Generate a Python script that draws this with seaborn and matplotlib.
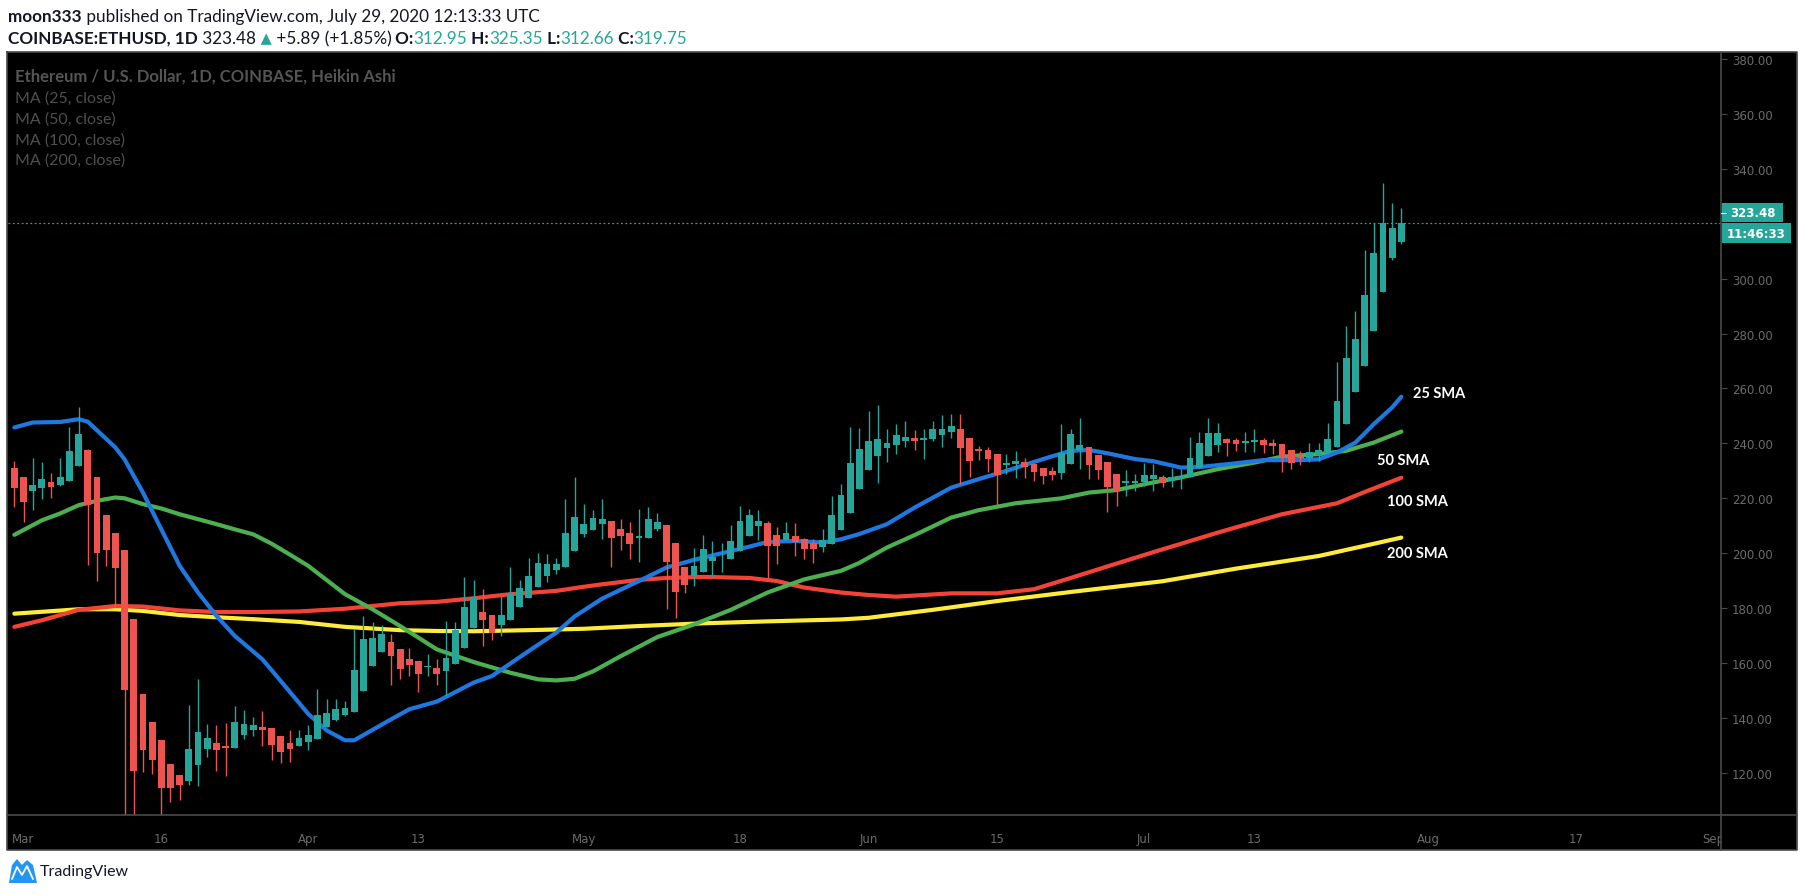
import pandas as pd
import matplotlib
matplotlib.use("Agg")
import matplotlib.pyplot as plt
from matplotlib.patches import Rectangle, Polygon
from matplotlib.ticker import FormatStrFormatter
import seaborn as sns

# COINBASE:ETHUSD daily Heikin Ashi candles, 29 Feb 2020 - 29 Jul 2020
dates = pd.date_range("2020-02-29", "2020-07-29", freq="D")

ha_open = [
    231.2, 227.6, 222.7, 223.8, 225.8, 224.9, 226.4, 231.8, 237.5, 227.6,
    214.1, 207.5, 201.3, 176.0, 148.6, 138.4, 131.9, 123.1, 119.1, 117.1,
    122.9, 128.7, 130.8, 129.7, 129.1, 133.8, 135.6, 136.6, 136.2, 133.3,
    130.8, 129.8,
    131.3, 132.5, 136.9, 139.3, 141.1, 142.2, 149.9, 159.0, 164.1, 167.6,
    165.0, 161.6, 160.7, 158.5, 158.4, 157.1, 159.7, 165.5, 172.8, 178.5,
    177.4, 173.9, 175.7, 180.5, 183.7, 187.7, 191.7, 193.9, 195.0, 200.8,
    206.9, 208.5, 210.6, 211.7, 208.7, 207.5, 205.6, 205.5, 208.7, 210.2,
    203.6, 194.9, 191.8, 193.2, 197.2, 198.1, 197.8, 200.9, 206.2, 209.9,
    210.9, 206.8, 204.7, 206.1, 205.1, 203.6, 202.3, 203.3, 208.5, 214.6, 223.3,
    230.4, 235.5, 238.4, 239.5, 240.8, 241.8, 241.3, 241.5, 243.1, 244.2,
    245.2, 241.9, 237.9, 237.5, 236.1, 232.2, 232.5, 233.2, 232.4, 231.0,
    229.9, 229.1, 232.4, 237.6, 238.6, 235.7, 233.2, 228.8, 225.6, 225.6,
    225.9, 227.0, 227.6, 226.4, 227.0, 227.6, 231.2, 235.5, 239.3, 241.6,
    241.2, 240.3, 240.6, 241.2, 240.3, 239.7, 237.5, 235.5, 234.7, 235.9,
    236.4, 238.7, 247.0, 258.8, 268.2, 281.0, 295.2, 307.6, 313.2,
]
ha_high = [
    233.6, 227.9, 234.6, 233.2, 229.1, 234.6, 245.9, 253.2, 237.9, 227.6,
    214.1, 207.5, 201.3, 176.0, 148.6, 138.4, 131.9, 123.1, 119.1, 144.6,
    154.1, 137.7, 137.4, 138.1, 144.3, 142.8, 140.2, 142.4, 136.2, 133.3,
    135.5, 135.5,
    137.4, 150.5, 146.8, 146.8, 146.1, 172.3, 177.2, 175.0, 173.8, 170.5,
    165.0, 165.4, 160.7, 163.2, 161.6, 175.2, 175.1, 191.3, 190.2, 186.9,
    177.4, 184.8, 194.9, 190.2, 198.2, 200.0, 199.6, 198.2, 219.7, 227.7,
    217.9, 215.7, 219.7, 211.7, 212.4, 211.2, 216.0, 217.0, 214.8, 210.2,
    203.6, 194.9, 201.8, 206.6, 204.5, 203.6, 210.2, 217.1, 216.0, 215.7,
    211.7, 209.5, 211.3, 210.9, 205.7, 205.1, 208.7, 220.9, 225.1, 246.0, 245.5,
    251.7, 253.9, 245.4, 246.9, 248.1, 244.8, 245.4, 248.1, 250.3, 250.6,
    250.6, 241.9, 239.0, 238.6, 236.1, 236.1, 237.2, 234.6, 232.4, 231.0,
    231.3, 247.0, 245.2, 249.2, 238.6, 235.7, 233.2, 228.8, 230.4, 228.8,
    232.9, 232.4, 228.4, 231.2, 230.6, 242.4, 244.0, 249.2, 247.6, 242.1,
    241.8, 244.0, 245.4, 242.1, 241.5, 239.7, 237.5, 237.3, 240.1, 240.1,
    247.4, 269.7, 282.8, 288.3, 310.5, 320.2, 334.8, 327.5, 325.6,
]
ha_low = [
    217.0, 211.5, 215.8, 219.8, 220.2, 224.5, 226.4, 231.8, 195.8, 189.9,
    195.2, 180.8, 95.0, 90.0, 120.3, 119.5, 102.0, 109.4, 110.1, 115.6,
    115.2, 125.8, 120.7, 118.9, 129.1, 132.4, 133.5, 129.8, 124.7, 123.6,
    124.0, 129.8,
    128.4, 132.5, 136.9, 138.9, 140.7, 142.2, 149.9, 159.0, 164.1, 152.0,
    154.2, 155.3, 149.5, 155.3, 152.0, 148.0, 159.7, 165.5, 172.8, 166.2,
    168.4, 169.9, 175.7, 180.5, 183.7, 187.7, 189.6, 192.5, 195.0, 200.8,
    206.0, 208.5, 205.1, 195.0, 201.1, 197.8, 196.8, 205.5, 208.1, 179.6,
    176.4, 185.4, 188.1, 193.2, 191.5, 193.2, 197.8, 200.9, 206.2, 204.9,
    190.9, 196.0, 204.7, 199.0, 197.8, 196.4, 200.5, 203.3, 208.5, 214.6, 223.3,
    230.4, 225.5, 233.3, 236.2, 238.6, 237.6, 234.2, 240.8, 238.6, 241.9,
    225.1, 227.7, 234.0, 229.5, 217.5, 228.9, 227.3, 227.3, 226.4, 225.1,
    226.6, 227.0, 232.4, 230.6, 227.0, 227.0, 215.1, 217.2, 220.9, 222.7,
    224.4, 222.7, 224.3, 224.3, 223.3, 227.6, 231.2, 235.5, 236.9, 235.5,
    237.3, 236.7, 236.7, 236.4, 236.1, 229.6, 230.6, 232.2, 233.3, 233.6,
    236.4, 238.7, 247.0, 258.8, 268.2, 281.0, 295.2, 306.6, 312.6,
]
ha_close = [
    223.6, 218.5, 225.0, 227.2, 224.2, 227.9, 237.2, 243.4, 217.6, 200.1,
    201.2, 194.7, 150.2, 120.7, 128.4, 124.7, 114.5, 114.5, 115.6, 128.9,
    134.8, 132.6, 128.4, 129.0, 138.4, 137.7, 137.3, 135.6, 130.2, 127.6,
    128.7, 132.9,
    133.7, 141.0, 142.0, 143.2, 143.5, 157.4, 168.7, 169.0, 170.5, 162.6,
    158.0, 159.3, 156.0, 158.6, 156.0, 162.0, 171.9, 180.3, 184.1, 175.7,
    171.1, 177.4, 185.7, 187.3, 191.6, 196.4, 196.0, 196.0, 207.3, 213.1,
    210.6, 213.0, 212.4, 205.5, 206.3, 203.3, 206.1, 212.4, 211.2, 196.8,
    185.9, 188.5, 195.3, 201.5, 198.8, 198.3, 204.4, 211.7, 213.9, 211.7,
    202.7, 202.7, 207.5, 204.1, 201.5, 201.5, 204.7, 213.9, 221.1, 232.8, 237.9,
    240.8, 241.5, 240.3, 243.0, 242.5, 240.9, 241.8, 245.2, 245.2, 246.3,
    238.3, 233.6, 237.3, 234.3, 228.4, 232.7, 233.5, 231.3, 229.5, 228.1,
    228.4, 236.4, 243.4, 239.4, 232.1, 230.4, 224.1, 222.6, 226.2, 226.2,
    228.4, 228.4, 225.7, 227.6, 228.2, 234.6, 240.1, 243.7, 243.7, 240.1,
    239.7, 240.8, 241.2, 239.3, 239.1, 235.2, 232.8, 234.5, 237.0, 237.5,
    241.5, 255.4, 271.0, 278.0, 294.0, 309.5, 320.1, 318.6, 320.2,
]

# moving averages (day offset from 29 Feb, value)
sma25_day = [0, 2, 5, 7, 8, 11, 12, 14, 16, 18, 20, 22, 24, 27, 29, 31, 32, 34, 36, 37,
             41, 43, 46, 50, 52, 56, 59, 61, 64, 68, 71, 74, 77, 80, 82, 85, 88, 90, 92,
             95, 98, 102, 105, 108, 112, 115, 117, 119, 122, 124, 127, 129, 132, 136,
             140, 142, 144, 146, 148, 150, 151]
sma25_val = [245.8, 247.6, 247.8, 248.8, 247.9, 238.5, 234.2, 222.1, 208.7, 195.4,
             185.7, 177.2, 169.9, 161.4, 153.5, 145.5, 141.5, 135.5, 131.9, 131.9,
             139.5, 143.2, 146.0, 152.9, 155.3, 164.4, 171.1, 177.0, 183.5, 189.9,
             194.8, 197.6, 200.0, 202.4, 204.1, 204.5, 203.9, 205.1, 207.0, 210.6,
             216.6, 223.9, 227.0, 230.0, 234.3, 237.3, 237.6, 236.4, 234.3, 233.5,
             231.2, 231.4, 232.4, 233.9, 233.9, 234.2, 236.7, 240.3, 247.0, 253.1, 257.0]
sma50_day = [0, 3, 5, 7, 9, 11, 12, 14, 16, 18, 20, 22, 24, 26, 28, 30, 32, 36, 39, 42,
             46, 50, 54, 57, 59, 61, 63, 66, 70, 74, 78, 82, 86, 90, 92, 95, 98, 102,
             105, 109, 114, 117, 120, 124, 127, 131, 135, 138, 142, 145, 148, 151]
sma50_val = [206.7, 212.0, 214.5, 217.5, 219.1, 220.3, 220.0, 217.9, 216.3, 214.2,
             212.4, 210.6, 208.7, 206.9, 203.5, 199.5, 195.4, 185.1, 179.6, 173.5,
             165.0, 160.4, 156.5, 154.1, 153.7, 154.3, 157.0, 162.5, 169.5, 174.1,
             179.4, 185.7, 190.5, 193.6, 196.5, 202.1, 206.6, 213.0, 215.7, 218.2,
             220.0, 222.1, 223.0, 225.8, 227.6, 230.6, 233.0, 235.2, 236.1, 237.3,
             240.3, 244.3]
sma100_day = [0, 3, 7, 11, 14, 18, 22, 26, 31, 36, 42, 46, 50, 54, 59, 62, 64, 68, 71,
              75, 80, 83, 86, 90, 93, 96, 102, 107, 111, 115, 119, 124, 131, 138, 144,
              147, 151]
sma100_val = [173.2, 175.6, 179.4, 180.8, 180.6, 179.2, 178.6, 178.6, 178.8, 179.8,
              181.8, 182.3, 183.6, 185.1, 186.3, 187.8, 188.7, 190.3, 191.0, 191.4,
              191.0, 189.9, 187.5, 185.7, 184.8, 184.2, 185.4, 185.4, 186.9, 191.0,
              195.2, 200.4, 207.5, 214.2, 218.2, 222.3, 227.5]
sma200_day = [0, 7, 11, 14, 18, 22, 26, 31, 36, 42, 46, 50, 56, 62, 68, 75, 82, 90, 93,
              100, 107, 115, 125, 133, 142, 147, 151]
sma200_val = [178.0, 179.6, 179.6, 179.0, 177.5, 176.7, 176.0, 175.0, 173.2, 172.0,
              171.7, 171.6, 172.0, 172.5, 173.5, 174.5, 175.2, 175.9, 176.5, 179.4,
              182.6, 185.9, 189.8, 194.4, 199.0, 202.7, 205.7]

# 320.00 sits under the last-price tag, so it is not listed
price_ticks = [120, 140, 160, 180, 200, 220, 240, 260, 280, 300, 340, 360, 380]
time_ticks = ["2020-03-01", "2020-03-16", "2020-04-01", "2020-04-13", "2020-05-01",
              "2020-05-18", "2020-06-01", "2020-06-15", "2020-07-01", "2020-07-13",
              "2020-08-01", "2020-08-17", "2020-09-01"]
time_labels = ["Mar", "16", "Apr", "13", "May", "18", "Jun", "15", "Jul", "13",
               "Aug", "17", "Sep"]

UP, DOWN = "#26a69a", "#ef5350"
GRID = "#4a4a4a"
TXT = "#6b6b6b"
HEAD = ["Lato", "DejaVu Sans"]

sns.set_style("dark", {"axes.facecolor": "black"})
plt.rcParams["font.family"] = ["DejaVu Sans"]

W, H = 1805, 895
fig = plt.figure(figsize=(W / 100, H / 100), dpi=100, facecolor="white")


def frac(x0, y0, x1, y1):
    return [x0 / W, 1 - y1 / H, (x1 - x0) / W, (y1 - y0) / H]


# background panel, in pixel coordinates
bg = fig.add_axes([0, 0, 1, 1], zorder=-1)
bg.set_xlim(0, W)
bg.set_ylim(H, 0)
bg.axis("off")
bg.add_patch(Rectangle((7, 53), 1790, 798, facecolor="black", edgecolor="none"))

ax = fig.add_axes(frac(8, 53, 1721, 816), zorder=1)
ax.set_facecolor("black")

x0 = dates[0]
day = lambda d: [x0 + pd.Timedelta(days=v) for v in d]

# moving averages
for dd, vv, col in [(sma200_day, sma200_val, "#ffeb3b"), (sma100_day, sma100_val, "#f44336"),
                    (sma50_day, sma50_val, "#4caf50"), (sma25_day, sma25_val, "#1e78e0")]:
    sns.lineplot(x=day(dd), y=vv, ax=ax, color=col, lw=3.0, sort=False, zorder=2)

# candles
df = pd.DataFrame({"date": dates, "open": ha_open, "high": ha_high,
                   "low": ha_low, "close": ha_close})
df["up"] = df["close"] >= df["open"]
colors = [UP if u else DOWN for u in df["up"]]
body_lo = df[["open", "close"]].min(axis=1)
body_h = (df["close"] - df["open"]).abs().clip(lower=0.35)
ax.vlines(df["date"], df["low"], df["high"], colors=colors, lw=1.0, zorder=3)
ax.bar(df["date"], body_h, bottom=body_lo, width=0.74, color=colors,
       edgecolor="none", linewidth=0, zorder=4)

# last price line
ax.axhline(ha_close[-1], color=UP, lw=0.9, ls=(0, (1.5, 2)), zorder=1)

# SMA tags
for lbl, d, p in [("25 SMA", 152.3, 258.3), ("50 SMA", 148.4, 234.0),
                  ("100 SMA", 149.4, 219.0), ("200 SMA", 149.4, 200.0)]:
    ax.text(x0 + pd.Timedelta(days=d), p, lbl, color="white", fontsize=10.5,
            fontweight="bold", family=HEAD, va="center", ha="left", zorder=6)

ax.set_xlim(x0 - pd.Timedelta(days=0.69), x0 + pd.Timedelta(days=185.8))
ax.set_ylim(104.7, 382.5)
ax.set_xlabel("")
ax.set_ylabel("")
ax.grid(False)
for s in ax.spines.values():
    s.set_visible(False)

ax.yaxis.tick_right()
ax.set_yticks(price_ticks)
ax.yaxis.set_major_formatter(FormatStrFormatter("%.2f"))
ax.tick_params(axis="y", length=4, width=0.8, color=GRID, labelcolor=TXT,
               labelsize=8.5, pad=4, direction="out")
ax.set_xticks(pd.to_datetime(time_ticks))
ax.set_xticklabels(time_labels)
ax.tick_params(axis="x", length=4, width=0.8, color=GRID, labelcolor=TXT,
               labelsize=8.5, pad=8, direction="out")

# overlay for frame, header, legend, price tags, logo
ov = fig.add_axes([0, 0, 1, 1], zorder=10)
ov.set_xlim(0, W)
ov.set_ylim(H, 0)
ov.axis("off")
ov.add_patch(Rectangle((1722, 817), 74, 33, facecolor="black", edgecolor="none"))
ov.plot([7, 1797, 1797, 7, 7], [53, 53, 851, 851, 53], color=GRID, lw=1.2)
ov.plot([1721, 1721], [53, 851], color=GRID, lw=1.2)
ov.plot([7, 1797], [816, 816], color=GRID, lw=1.2)

# price tags on the axis
ov.plot([1721, 1726], [213.5, 213.5], color="white", lw=0.8)
ov.add_patch(Rectangle((1722, 204), 61, 19, facecolor=UP, edgecolor="none"))
ov.text(1753, 213.5, "323.48", color="white", fontsize=8.5, fontweight="bold",
        ha="center", va="center")
ov.add_patch(Rectangle((1722, 224), 69, 20, facecolor=UP, edgecolor="none"))
ov.text(1756, 234, "11:46:33", color="white", fontsize=8.5, fontweight="bold",
        ha="center", va="center")


def chain(parts, x, y, size):
    prev = None
    for s, col, wt in parts:
        fam = ["DejaVu Sans"] if s.strip() == "▲" else HEAD
        fs = size if fam == HEAD else size * 0.85
        if prev is None:
            prev = ov.text(x, y, s, color=col, fontweight=wt, fontsize=fs,
                           family=fam, va="center", ha="left")
        else:
            prev = ov.annotate(s, xy=(1, 0.5), xycoords=prev, color=col, fontweight=wt,
                               fontsize=fs, family=fam, va="center", ha="left")


DARK = "#131722"
chain([("moon333", DARK, "bold"),
       (" published on TradingView.com, July 29, 2020 12:13:33 UTC", DARK, "normal")],
      8, 17, 12.3)
chain([("COINBASE:ETHUSD, 1D", DARK, "bold"), (" 323.48", DARK, "normal"),
       (" ▲", UP, "normal"), (" +5.89 (+1.85%)", DARK, "normal"),
       (" O:", DARK, "bold"), ("312.95", UP, "normal"),
       (" H:", DARK, "bold"), ("325.35", UP, "normal"),
       (" L:", DARK, "bold"), ("312.66", UP, "normal"),
       (" C:", DARK, "bold"), ("319.75", UP, "normal")],
      8, 39, 12.3)

ov.text(15, 77, "Ethereum / U.S. Dollar, 1D, COINBASE, Heikin Ashi", color="#555555",
        fontsize=12, fontweight="bold", family=HEAD, va="center")
for i, n in enumerate([25, 50, 100, 200]):
    ov.text(15, 98.5 + 20.8 * i, f"MA ({n}, close)", color="#4f4f4f", fontsize=11.5,
            family=HEAD, va="center")

# TradingView logo
ov.add_patch(Polygon([(9, 884), (12, 866), (17, 860), (22, 866), (27, 861), (33, 866),
                      (37, 884)], closed=True, facecolor="#2196f3", edgecolor="none"))
ov.plot([12, 17, 22, 27, 33], [880, 868, 876, 867, 880], color="white", lw=1.3)
ov.text(40, 872, "TradingView", color=DARK, fontsize=11.5, family=HEAD, va="center")

fig.savefig("out.png", dpi=100, facecolor="white")
